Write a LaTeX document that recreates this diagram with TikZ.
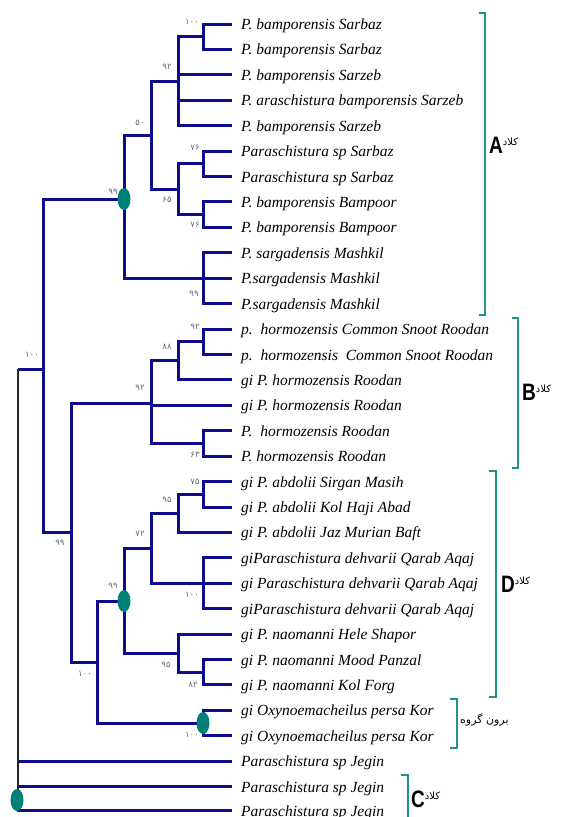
\documentclass[tikz,border=0pt]{standalone}
\usepackage{fontspec}
\usepackage{graphicx}
\usetikzlibrary{shapes.geometric}
\setmainfont{Liberation Serif}
\newfontfamily\cladefont{Liberation Sans}
\newfontfamily\persianfont[Script=Arabic]{DejaVu Sans}
\newfontfamily\digitfont{DejaVu Sans}
\TeXXeTstate=1
\definecolor{branch}{RGB}{12,12,140}
\definecolor{knot}{RGB}{0,128,118}
\definecolor{brk}{RGB}{30,150,135}
\definecolor{supp}{RGB}{105,105,125}
\newcommand\cladetag[1]{\scalebox{1}[1.25]{\cladefont\bfseries\fontsize{19}{19}\selectfont #1}\raisebox{8pt}{\persianfont\fontsize{10}{10}\selectfont\beginR کلاد\endR}}
\tikzset{
  br/.style={draw=branch, line width=3pt, line join=miter},
  stem/.style={draw=black!85, line width=2pt},
  leaf/.style={anchor=west, inner xsep=9pt, inner ysep=0pt, text height=11pt, text depth=0pt,
    font=\fontsize{15.5}{16}\selectfont\itshape},
  bs/.style={inner sep=0pt, text=supp, font=\digitfont\fontsize{8.5}{8.5}\selectfont},
  knotmark/.style={ellipse, fill=knot, minimum width=13pt, minimum height=22pt, inner sep=0pt},
  bracket/.style={draw=brk, line width=1.5pt},
  clade/.style={anchor=base west, inner sep=0pt},
}
\begin{document}
\begin{tikzpicture}[x=1pt, y=-1pt]
\useasboundingbox (0,0) rectangle (565,817);

% ---- leaves
\node[leaf] (l1)  at (232, 24.0) {P. bamporensis Sarbaz};
\node[leaf] (l2)  at (232, 49.4) {P. bamporensis Sarbaz};
\node[leaf] (l3)  at (232, 74.8) {P. bamporensis Sarzeb};
\node[leaf] (l4)  at (232,100.3) {P. araschistura bamporensis Sarzeb};
\node[leaf] (l5)  at (232,125.7) {P. bamporensis Sarzeb};
\node[leaf] (l6)  at (232,151.1) {Paraschistura sp Sarbaz};
\node[leaf] (l7)  at (232,176.5) {Paraschistura sp Sarbaz};
\node[leaf] (l8)  at (232,201.9) {P. bamporensis Bampoor};
\node[leaf] (l9)  at (232,227.4) {P. bamporensis Bampoor};
\node[leaf] (l10) at (232,252.8) {P. sargadensis Mashkil};
\node[leaf] (l11) at (232,278.2) {P.sargadensis Mashkil};
\node[leaf] (l12) at (232,303.6) {P.sargadensis Mashkil};
\node[leaf] (l13) at (232,329.0) {p.\ \ hormozensis Common Snoot Roodan};
\node[leaf] (l14) at (232,354.5) {p.\ \ hormozensis\ \ Common Snoot Roodan};
\node[leaf] (l15) at (232,379.9) {gi P. hormozensis Roodan};
\node[leaf] (l16) at (232,405.3) {gi P. hormozensis Roodan};
\node[leaf] (l17) at (232,430.7) {P.\ \ hormozensis Roodan};
\node[leaf] (l18) at (232,456.1) {P. hormozensis Roodan};
\node[leaf] (l19) at (232,481.6) {gi P. abdolii Sirgan Masih};
\node[leaf] (l20) at (232,507.0) {gi P. abdolii Kol Haji Abad};
\node[leaf] (l21) at (232,532.4) {gi P. abdolii Jaz Murian Baft};
\node[leaf] (l22) at (232,557.8) {giParaschistura dehvarii Qarab Aqaj};
\node[leaf] (l23) at (232,583.2) {gi Paraschistura dehvarii Qarab Aqaj};
\node[leaf] (l24) at (232,608.7) {giParaschistura dehvarii Qarab Aqaj};
\node[leaf] (l25) at (232,634.1) {gi P. naomanni Hele Shapor};
\node[leaf] (l26) at (232,659.5) {gi P. naomanni Mood Panzal};
\node[leaf] (l27) at (232,684.9) {gi P. naomanni Kol Forg};
\node[leaf] (l28) at (232,710.3) {gi Oxynoemacheilus persa Kor};
\node[leaf] (l29) at (232,735.8) {gi Oxynoemacheilus persa Kor};
\node[leaf] (l30) at (232,761.2) {Paraschistura sp Jegin};
\node[leaf] (l31) at (232,786.6) {Paraschistura sp Jegin};
\node[leaf] (l32) at (232,810.5) {Paraschistura sp Jegin};

% ---- internal nodes
\coordinate (a12)   at (203, 36.7);
\coordinate (a15)   at (178, 81.2);
\coordinate (a67)   at (203,163.8);
\coordinate (a89)   at (203,214.7);
\coordinate (a69)   at (178,189.2);
\coordinate (a19)   at (151,135.2);
\coordinate (a1012) at (203,278.2);
\coordinate (aA)    at (124,199.0);
\coordinate (b1314) at (203,341.7);
\coordinate (b1315) at (178,360.8);
\coordinate (b1718) at (203,443.4);
\coordinate (bB)    at (151,403.0);
\coordinate (d1920) at (203,494.3);
\coordinate (d1921) at (178,513.4);
\coordinate (d2224) at (203,583.2);
\coordinate (d1924) at (151,548.3);
\coordinate (d2627) at (203,672.2);
\coordinate (d2527) at (178,653.2);
\coordinate (dD)    at (124,601.0);
\coordinate (o2829) at (203,723.0);
\coordinate (dO)    at (97,662.0);
\coordinate (bD)    at (71,532.0);
\coordinate (ing)   at (43,369.0);
\coordinate (root)  at (18,369.0);
\coordinate (rootend) at (18,812.0);

% ---- branches
\draw[br] (a12) |- (l1.west) (a12) |- (l2.west);
\draw[br] (a15) |- (a12) (a15) |- (l3.west) (a15) |- (l4.west) (a15) |- (l5.west);
\draw[br] (a67) |- (l6.west) (a67) |- (l7.west);
\draw[br] (a89) |- (l8.west) (a89) |- (l9.west);
\draw[br] (a69) |- (a67) (a69) |- (a89);
\draw[br] (a19) |- (a15) (a19) |- (a69);
\draw[br] (a1012) |- (l10.west) (a1012) |- (l11.west) (a1012) |- (l12.west);
\draw[br] (aA) |- (a19) (aA) |- (a1012);
\draw[br] (b1314) |- (l13.west) (b1314) |- (l14.west);
\draw[br] (b1315) |- (b1314) (b1315) |- (l15.west);
\draw[br] (b1718) |- (l17.west) (b1718) |- (l18.west);
\draw[br] (bB) |- (b1315) (bB) |- (l16.west) (bB) |- (b1718);
\draw[br] (d1920) |- (l19.west) (d1920) |- (l20.west);
\draw[br] (d1921) |- (d1920) (d1921) |- (l21.west);
\draw[br] (d2224) |- (l22.west) (d2224) |- (l23.west) (d2224) |- (l24.west);
\draw[br] (d1924) |- (d1921) (d1924) |- (d2224);
\draw[br] (d2627) |- (l26.west) (d2627) |- (l27.west);
\draw[br] (d2527) |- (l25.west) (d2527) |- (d2627);
\draw[br] (dD) |- (d1924) (dD) |- (d2527);
\draw[br] (o2829) |- (l28.west) (o2829) |- (l29.west);
\draw[br] (dO) |- (dD) (dO) |- (o2829);
\draw[br] (bD) |- (bB) (bD) |- (dO);
\draw[br] (ing) |- (aA) (ing) |- (bD);
\draw[br] (root) -- (ing);
\draw[br] (root |- l30.west) -- (l30.west);
\draw[br] (root |- l31.west) -- (l31.west);
\draw[br] (root |- l32.west) -- (l32.west);
\draw[stem] (root) -- (rootend);

% ---- marked nodes
\node[knotmark] (k1) at (aA) {};
\node[knotmark] (k2) at (dD) {};
\node[knotmark] (k3) at (o2829) {};
\node[knotmark] (k4) at (17,800) {};

% ---- support values
\node[bs] (s1)  at (192, 22) {۱۰۰};
\node[bs] (s2)  at (167, 67) {۹۲};
\node[bs] (s3)  at (140,123) {۵۰};
\node[bs] (s4)  at (195,148) {۷۶};
\node[bs] (s5)  at (167,200) {۶۵};
\node[bs] (s6)  at (195,225) {۷۶};
\node[bs] (s7)  at (113,192) {۹۹};
\node[bs] (s8)  at (194,294) {۹۹};
\node[bs] (s9)  at (195,327) {۹۲};
\node[bs] (s10) at (167,347) {۸۸};
\node[bs] (s11) at (32,355)  {۱۰۰};
\node[bs] (s12) at (140,388) {۹۲};
\node[bs] (s13) at (195,455) {۶۳};
\node[bs] (s14) at (195,482) {۷۵};
\node[bs] (s15) at (167,500) {۹۵};
\node[bs] (s16) at (140,534) {۷۲};
\node[bs] (s17) at (60,543)  {۹۹};
\node[bs] (s18) at (113,586) {۹۹};
\node[bs] (s19) at (192,595) {۱۰۰};
\node[bs] (s20) at (166,665) {۹۵};
\node[bs] (s21) at (193,685) {۸۲};
\node[bs] (s22) at (85,674)  {۱۰۰};
\node[bs] (s23) at (192,735) {۱۰۰};

% ---- clade brackets
\draw[bracket] (479,13) -- (485,13) -- (485,315) -- (479,315);
\draw[bracket] (512,318) -- (518,318) -- (518,468) -- (512,468);
\draw[bracket] (489,471) -- (496,471) -- (496,697) -- (489,697);
\draw[bracket] (450,699) -- (457,699) -- (457,748) -- (450,748);
\draw[bracket] (401,775) -- (408,775) -- (408,820);

\node[clade] (cA) at (489,153) {\cladetag{A}};
\node[clade] (cB) at (522,400) {\cladetag{B}};
\node[clade] (cD) at (501,592) {\cladetag{D}};
\node[clade] (cC) at (411,807) {\cladetag{C}};
\node[anchor=west, inner sep=0pt] (og) at (460,720)
  {\persianfont\fontsize{11}{11}\selectfont\beginR برون گروه\endR};
\end{tikzpicture}
\end{document}
